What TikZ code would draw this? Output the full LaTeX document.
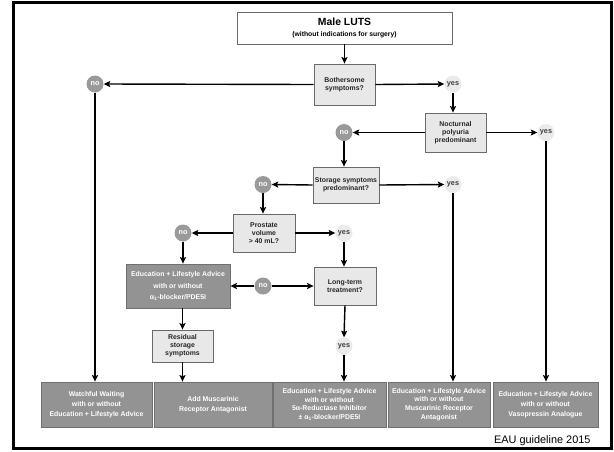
\documentclass[tikz,border=0pt]{standalone}
\usepackage{fontspec}
\setmainfont{Liberation Sans}
\usetikzlibrary{arrows.meta}
\definecolor{boxfill}{HTML}{E8E8E8}
\definecolor{boxline}{HTML}{6A6A6A}
\definecolor{darkfill}{HTML}{939393}
\definecolor{darkline}{HTML}{707070}
\definecolor{nofill}{HTML}{9A9A9A}
\definecolor{yesfill}{HTML}{EBEBEB}
\definecolor{yestext}{HTML}{404040}
\newcommand{\boxfont}{\fontsize{6.9}{8}\selectfont\bfseries}
\tikzset{
  decision/.style={draw=boxline, line width=0.8pt, fill=boxfill, inner sep=0pt,
    align=center, font=\boxfont, text=black!85},
  outcome/.style={draw=darkline, line width=0.8pt, fill=darkfill, inner sep=0pt,
    align=center, font=\fontsize{6.9}{10}\selectfont\bfseries, text=white},
  nocircle/.style={circle, fill=nofill, minimum size=17pt, inner sep=0pt,
    font=\fontsize{7.3}{8}\selectfont\bfseries, text=white},
  yescircle/.style={circle, fill=yesfill, minimum size=17pt, inner sep=0pt,
    font=\fontsize{7.3}{8}\selectfont\bfseries, text=yestext},
  flow/.style={line width=1.4pt, -{Stealth[length=6.5pt,width=6pt,inset=1.2pt]}},
}
\begin{document}
\begin{tikzpicture}[x=1pt,y=-1pt]
\useasboundingbox (0,0) rectangle (614,451);
\draw[line width=3pt] (13.5,2.5) rectangle (611.5,448.5);

% start
\node[draw=boxline, line width=0.8pt, fill=white, minimum width=215pt, minimum height=32pt,
  inner sep=0pt, align=center] (luts) at (344.5,28)
  {{\fontsize{10.4}{12}\selectfont\bfseries Male LUTS}\\[-1pt]
   {\fontsize{6.8}{8}\selectfont\bfseries (without indications for surgery)}};

% questions
\node[decision, minimum width=61pt, minimum height=41pt] (both) at (344.5,84.5) {Bothersome\\symptoms?};
\node[decision, minimum width=61pt, minimum height=39pt] (noc) at (455.5,132.5) {Nocturnal\\polyuria\\predominant};
\node[decision, minimum width=66pt, minimum height=36pt] (stor) at (346,185) {Storage symptoms\\predominant?};
\node[decision, minimum width=62pt, minimum height=38pt] (pros) at (264,233) {Prostate\\volume\\> 40 mL?};
\node[decision, minimum width=62pt, minimum height=38pt] (long) at (345,286) {Long-term\\treatment?};
\node[decision, minimum width=61pt, minimum height=32pt] (resid) at (182.5,346) {Residual\\storage\\symptoms};

\node[outcome, minimum width=104pt, minimum height=44pt, font=\fontsize{6.9}{11.5}\selectfont\bfseries]
  (edu) at (178,286) {Education + Lifestyle Advice\\with or without\\α\textsubscript{1}-blocker/PDE5I};

% answers
\node[nocircle] (no1) at (95,84) {no};
\node[yescircle] (yes1) at (453,84) {yes};
\node[nocircle] (no2) at (344,132.5) {no};
\node[yescircle] (yes2) at (546,132.5) {yes};
\node[nocircle] (no3) at (263,184.5) {no};
\node[yescircle] (yes3) at (453,184.5) {yes};
\node[nocircle] (no4) at (183,233) {no};
\node[yescircle] (yes4) at (344,233) {yes};
\node[nocircle] (no5) at (263,286) {no};
\node[yescircle] (yes5) at (344,346) {yes};

% treatment outcomes
\node[outcome, minimum width=111pt, minimum height=45pt] (b1) at (96.5,404.5)
  {Watchful Waiting\\with or without\\Education + Lifestyle Advice};
\node[outcome, minimum width=118pt, minimum height=45pt] (b2) at (213,404.5)
  {Add Muscarinic\\Receptor Antagonist};
\node[outcome, minimum width=113pt, minimum height=45pt, font=\fontsize{6.9}{8.6}\selectfont\bfseries] (b3) at (329.5,404.5)
  {Education + Lifestyle Advice\\with or without\\5α-Reductase Inhibitor\\± α\textsubscript{1}-blocker/PDE5I};
\node[outcome, minimum width=102pt, minimum height=45pt, font=\fontsize{6.9}{8.6}\selectfont\bfseries] (b4) at (439,404.5)
  {Education + Lifestyle Advice\\with or without\\Muscarinic Receptor\\Antagonist};
\node[outcome, minimum width=105pt, minimum height=45pt] (b5) at (545.5,404.5)
  {Education + Lifestyle Advice\\with or without\\Vasopressin Analogue};

\node[font=\fontsize{10.9}{12}\selectfont, anchor=east] (src) at (594,441) {EAU guideline 2015};

% connectors
\draw[flow] (luts.south) -- (both.north);
\draw[flow] (both.west) -- (no1.east);
\draw[flow] (both.east) -- (yes1.west);
\draw[flow] (no1.south) -- (no1|-b1.north);
\draw[flow] (yes1.south) -- (yes1|-noc.north);
\draw[flow] (noc.west) -- (no2.east);
\draw[flow] (noc.east) -- (yes2.west);
\draw[flow] (yes2.south) -- (yes2|-b5.north);
\draw[flow] (no2.south) -- (no2|-stor.north);
\draw[flow] (stor.west) -- (no3.east);
\draw[flow] (stor.east) -- (yes3.west);
\draw[flow] (yes3.south) -- (yes3|-b4.north);
\draw[flow] (no3.south) -- (no3|-pros.north);
\draw[flow] (pros.west) -- (no4.east);
\draw[flow] (pros.east) -- (yes4.west);
\draw[flow] (no4.south) -- (no4|-edu.north);
\draw[flow] (yes4.south) -- (yes4|-long.north);
\draw[flow] (no5.west) -- (edu.east);
\draw[flow] (no5.east) -- (long.west);
\draw[flow] (long.south) -- (yes5.north);
\draw[flow] (yes5.south) -- (yes5|-b3.north);
\draw[flow] (resid.north|-edu.south) -- (resid.north);
\draw[flow] (resid.south) -- (resid.south|-b2.north);
\end{tikzpicture}
\end{document}
